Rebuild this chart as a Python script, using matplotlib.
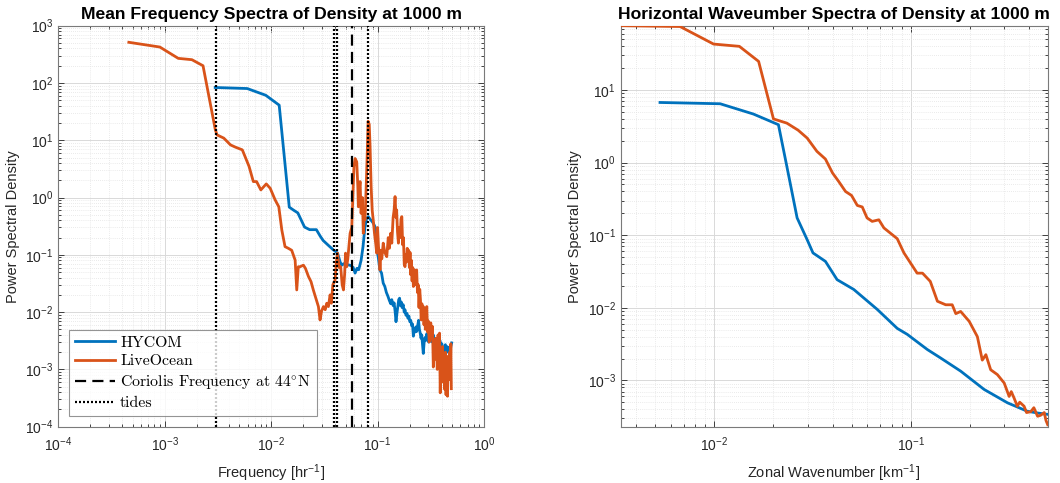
import matplotlib
matplotlib.use("Agg")
import matplotlib.pyplot as plt
from matplotlib.ticker import LogLocator, NullFormatter

# ---------------- frequency spectra (left panel) ----------------
hycom_freq = [0.00298, 0.00596, 0.0089, 0.0119, 0.0148, 0.0163, 0.0178, 0.0206, 0.0230, 0.0266,
              0.0290, 0.0308, 0.0340, 0.0384, 0.0420, 0.0445, 0.0461, 0.0480, 0.0500, 0.0530,
              0.0560, 0.0590, 0.0615, 0.0640, 0.0665, 0.0700, 0.0730, 0.0760, 0.0790, 0.0818,
              0.0850, 0.0880, 0.0912, 0.0946, 0.0980, 0.1020, 0.1050, 0.1090, 0.1130, 0.1170,
              0.1210, 0.1250, 0.1290, 0.1330, 0.1360, 0.1400, 0.1430, 0.1460, 0.1490, 0.1520,
              0.1550, 0.1580, 0.1610, 0.1640, 0.1670, 0.1700, 0.1740, 0.1780, 0.1810, 0.1850,
              0.1890, 0.1930, 0.1970, 0.2010, 0.2050, 0.2090, 0.2130, 0.2170, 0.2210, 0.2250,
              0.2290, 0.2330, 0.2380, 0.2430, 0.2470, 0.2510, 0.2560, 0.2600, 0.2650, 0.2690,
              0.2740, 0.2790, 0.2840, 0.2900, 0.2960, 0.3020, 0.3080, 0.3140, 0.3200, 0.3270,
              0.3340, 0.3410, 0.3480, 0.3550, 0.3620, 0.3700, 0.3780, 0.3860, 0.3940, 0.4020,
              0.4100, 0.4180, 0.4260, 0.4340, 0.4420, 0.4500, 0.4580, 0.4660, 0.4740, 0.4820,
              0.4900, 0.4970]
hycom_psd = [83.4, 80.0, 61.0, 41.0, 0.68, 0.60, 0.54, 0.305, 0.275, 0.275,
             0.21, 0.178, 0.15, 0.122, 0.108, 0.075, 0.066, 0.070, 0.066, 0.067,
             0.065, 0.060, 0.048, 0.058, 0.055, 0.080, 0.139, 0.30, 0.435, 0.464,
             0.42, 0.39, 0.356, 0.31, 0.139, 0.085, 0.055, 0.048, 0.032, 0.028,
             0.022, 0.019, 0.016, 0.014, 0.0165, 0.013, 0.0145, 0.0105, 0.0068, 0.0095,
             0.0125, 0.0165, 0.0175, 0.0130, 0.0150, 0.0120, 0.0135, 0.0100, 0.0110, 0.0088,
             0.0095, 0.0078, 0.0085, 0.0068, 0.0072, 0.0058, 0.0062, 0.0038, 0.0050, 0.0045,
             0.0055, 0.0046, 0.0058, 0.0072, 0.0050, 0.0044, 0.0035, 0.0040, 0.0026, 0.0019,
             0.0030, 0.0036, 0.0032, 0.0042, 0.0035, 0.0030, 0.0034, 0.0031, 0.0036, 0.0030,
             0.0040, 0.0033, 0.0028, 0.0034, 0.0031, 0.0026, 0.0030, 0.0032, 0.0025, 0.0028,
             0.0021, 0.0019, 0.0024, 0.0027, 0.0022, 0.0025, 0.0020, 0.0024, 0.0019, 0.0022,
             0.0026, 0.0029]

liveocean_freq = [4.6e-4, 9.0e-4, 1.34e-3, 1.8e-3, 2.29e-3, 2.99e-3, 3.1e-3, 3.59e-3, 4.15e-3, 4.6e-3,
                  5.36e-3, 6.2e-3, 6.8e-3, 7.3e-3, 8.0e-3, 9.0e-3, 9.8e-3, 0.0109, 0.0118, 0.0126,
                  0.0135, 0.0145, 0.0156, 0.0168, 0.0174, 0.0180, 0.0187, 0.0201, 0.0210, 0.0224,
                  0.0237, 0.0249, 0.0262, 0.0278, 0.0288, 0.0298, 0.0310, 0.0322, 0.0333, 0.0345,
                  0.0358, 0.0368, 0.0380, 0.0399, 0.0410, 0.0420, 0.0435, 0.0450, 0.0465, 0.0478,
                  0.0490, 0.0500, 0.0513, 0.0525, 0.0552, 0.0572, 0.0585, 0.0600, 0.0615, 0.0637,
                  0.0652, 0.0660, 0.0672, 0.0685, 0.0700, 0.0720, 0.0735, 0.0750, 0.0762, 0.0780,
                  0.0800, 0.0815, 0.0835, 0.0850, 0.0870, 0.0890, 0.0910, 0.0935, 0.0960, 0.0981,
                  0.1000, 0.1020, 0.1040, 0.1054, 0.1075, 0.1095, 0.1130, 0.1170, 0.1220, 0.1260,
                  0.1290, 0.1330, 0.1360, 0.1400, 0.1430, 0.1460, 0.1490, 0.1510, 0.1540, 0.1570,
                  0.1600, 0.1630, 0.1660, 0.1690, 0.1720, 0.1750, 0.1780, 0.1810, 0.1840, 0.1870,
                  0.1900, 0.1930, 0.1960, 0.1990, 0.2020, 0.2050, 0.2080, 0.2110, 0.2140, 0.2170,
                  0.2210, 0.2250, 0.2290, 0.2330, 0.2370, 0.2410, 0.2450, 0.2490, 0.2530, 0.2570,
                  0.2610, 0.2650, 0.2690, 0.2730, 0.2770, 0.2810, 0.2860, 0.2900, 0.2950, 0.3000,
                  0.3050, 0.3110, 0.3160, 0.3220, 0.3280, 0.3340, 0.3400, 0.3460, 0.3520, 0.3580,
                  0.3640, 0.3700, 0.3760, 0.3820, 0.3880, 0.3940, 0.4000, 0.4070, 0.4140, 0.4200,
                  0.4270, 0.4340, 0.4400, 0.4470, 0.4540, 0.4610, 0.4680, 0.4750, 0.4820, 0.4880,
                  0.4930]
liveocean_psd = [513, 424, 269, 255, 200, 15.2, 12.4, 10.9, 8.3, 7.6,
                 6.8, 3.5, 1.9, 1.9, 1.36, 1.73, 1.45, 0.91, 0.69, 0.27,
                 0.139, 0.13, 0.12, 0.081, 0.0244, 0.062, 0.062, 0.066, 0.058, 0.042,
                 0.034, 0.0244, 0.018, 0.0125, 0.0073, 0.0105, 0.0125, 0.0110, 0.0143, 0.0125,
                 0.020, 0.0143, 0.030, 0.0365, 0.075, 0.107, 0.060, 0.062, 0.030, 0.0244,
                 0.045, 0.107, 0.062, 0.085, 0.238, 0.30, 0.91, 3.5, 4.8, 4.2,
                 1.6, 0.69, 1.36, 1.9, 0.53, 1.0, 0.238, 0.50, 0.41, 1.36,
                 6.0, 21.5, 19.0, 8.0, 1.55, 0.60, 0.41, 0.238, 0.16, 0.107,
                 0.30, 0.14, 0.093, 0.0545, 0.12, 0.085, 0.16, 0.11, 0.093, 0.20,
                 0.13, 0.238, 0.16, 0.45, 0.60, 1.04, 0.45, 0.61, 0.25, 0.16,
                 0.30, 0.20, 0.42, 0.464, 0.15, 0.20, 0.07, 0.0622, 0.10, 0.075,
                 0.13, 0.09, 0.12, 0.06, 0.11, 0.045, 0.08, 0.035, 0.06, 0.028,
                 0.055, 0.030, 0.045, 0.0545, 0.022, 0.030, 0.012, 0.025, 0.0163, 0.0073,
                 0.014, 0.0095, 0.0125, 0.0060, 0.0110, 0.0050, 0.0090, 0.0125, 0.0045, 0.0070,
                 0.0030, 0.0033, 0.0065, 0.0040, 0.0056, 0.0011, 0.0030, 0.0015, 0.0035, 0.0022,
                 0.0010, 0.0040, 0.0018, 0.0043, 0.00039, 0.0020, 0.0012, 0.0025, 0.0006, 0.0015,
                 0.00045, 0.0020, 0.00036, 0.0013, 0.00034, 0.0017, 0.00066, 0.0020, 0.0008, 0.0028,
                 0.00046]

coriolis_freq = 0.0581                        # f at 44 N, cycles per hour
tide_freqs = [0.00305, 0.03873, 0.04178, 0.08051]  # Mf, O1, K1, M2

# ---------------- wavenumber spectra (right panel) ----------------
hycom_k = [0.00528, 0.0107, 0.0158, 0.0212, 0.0234, 0.0264, 0.0297, 0.0318, 0.0368, 0.0422,
           0.0513, 0.0676, 0.0855, 0.0962, 0.1217, 0.142, 0.180, 0.237, 0.312, 0.394,
           0.444, 0.500]
hycom_kpsd = [6.74, 6.47, 4.67, 3.33, 0.887, 0.173, 0.0867, 0.057, 0.0436, 0.0244,
              0.0179, 0.0095, 0.0052, 0.0043, 0.00266, 0.00204, 0.00134, 7.5e-4, 4.9e-4, 3.75e-4,
              3.55e-4, 3.4e-4]

liveocean_k = [0.00333, 0.00668, 0.0099, 0.0134, 0.0168, 0.0200, 0.0234, 0.0267, 0.0297, 0.0333,
               0.0368, 0.0400, 0.0430, 0.0466, 0.0500, 0.0535, 0.0567, 0.0600, 0.0637, 0.0689,
               0.0731, 0.0855, 0.0925, 0.108, 0.115, 0.126, 0.137, 0.151, 0.163, 0.170,
               0.180, 0.199, 0.219, 0.232, 0.242, 0.256, 0.277, 0.300, 0.318, 0.326,
               0.337, 0.350, 0.360, 0.379, 0.390, 0.410, 0.425, 0.444, 0.460, 0.480,
               0.490, 0.500]
liveocean_kpsd = [77, 75, 43, 40, 24.8, 4.0, 3.5, 2.8, 2.18, 1.43,
                  1.12, 0.72, 0.55, 0.40, 0.353, 0.257, 0.245, 0.173, 0.155, 0.163,
                  0.126, 0.0895, 0.057, 0.030, 0.030, 0.0231, 0.0123, 0.011, 0.011, 0.0083,
                  0.0089, 0.0065, 0.0040, 0.0019, 0.00226, 0.0014, 0.0012, 9.2e-4, 6.0e-4, 7.0e-4,
                  5.7e-4, 4.4e-4, 5.0e-4, 4.4e-4, 3.6e-4, 3.7e-4, 4.2e-4, 3.2e-4, 3.3e-4, 3.6e-4,
                  2.8e-4, 2.45e-4]

BLUE = "#0072BD"
ORANGE = "#D95319"
AXCOL = "#262626"

plt.rcParams["font.family"] = ["Liberation Sans", "DejaVu Sans"]
plt.rcParams["axes.unicode_minus"] = True
plt.rcParams["mathtext.fontset"] = "cm"

fig = plt.figure(figsize=(10.6, 4.83), dpi=100)
ax1 = fig.add_axes([0.0550, 0.1166, 0.4016, 0.8302])
ax2 = fig.add_axes([0.5856, 0.1166, 0.4028, 0.8302])


def style_axes(ax):
    ax.set_xscale("log")
    ax.set_yscale("log")
    ax.xaxis.set_major_locator(LogLocator(base=10, numticks=20))
    ax.yaxis.set_major_locator(LogLocator(base=10, numticks=20))
    ax.xaxis.set_minor_locator(LogLocator(base=10, subs=range(2, 10), numticks=20))
    ax.yaxis.set_minor_locator(LogLocator(base=10, subs=range(2, 10), numticks=20))
    ax.xaxis.set_minor_formatter(NullFormatter())
    ax.yaxis.set_minor_formatter(NullFormatter())
    ax.xaxis.get_offset_text().set_visible(False)
    ax.yaxis.get_offset_text().set_visible(False)
    ax.tick_params(which="both", direction="in", top=True, right=True, colors=AXCOL,
                   labelsize=10, width=0.6)
    ax.tick_params(which="major", length=4.5)
    ax.tick_params(which="minor", length=2.5)
    ax.tick_params(axis="x", which="major", pad=6)
    for s in ax.spines.values():
        s.set_color("#7a7a7a")
        s.set_linewidth(0.8)
    ax.grid(True, which="major", color="#d9d9d9", linewidth=0.7, linestyle="-")
    ax.grid(True, which="minor", color="#e3e3e3", linewidth=0.6, linestyle=(0, (1, 1.5)))
    ax.set_axisbelow(True)


style_axes(ax1)
style_axes(ax2)

# left: frequency spectra
l1, = ax1.plot(hycom_freq, hycom_psd, color=BLUE, lw=2.0, label="HYCOM", zorder=3)
l2, = ax1.plot(liveocean_freq, liveocean_psd, color=ORANGE, lw=2.0, label="LiveOcean", zorder=3)
l3 = ax1.axvline(coriolis_freq, color="black", lw=1.6, linestyle=(0, (5, 2.8)),
                 label="Coriolis Frequency at 44$^{\\circ}$N", zorder=4)
l4 = None
for i, tf in enumerate(tide_freqs):
    ln = ax1.axvline(tf, color="black", lw=1.6, linestyle=(0, (0.9, 0.9)),
                     label="tides" if i == 0 else None, zorder=4)
    if i == 0:
        l4 = ln
ax1.set_xlim(1e-4, 1)
ax1.set_ylim(1e-4, 1e3)
ax1.set_title("Mean Frequency Spectra of Density at 1000 m", fontsize=12.6,
              fontweight="bold", pad=5)
ax1.set_xlabel("Frequency [hr$^{\\mathdefault{-1}}$]", fontsize=10.5, color=AXCOL, labelpad=6)
ax1.set_ylabel("Power Spectral Density", fontsize=10.5, color=AXCOL, labelpad=4)

leg = ax1.legend(handles=[l1, l2, l3, l4], loc="lower left",
                 prop={"family": ["cmr10", "DejaVu Serif"], "size": 11.4},
                 borderaxespad=0.7, frameon=True, fancybox=False,
                 handlelength=2.55, handletextpad=0.3, labelspacing=0.28, borderpad=0.35)
leg.get_frame().set_edgecolor("#7a7a7a")
leg.get_frame().set_linewidth(0.8)
leg.set_zorder(5)

# right: wavenumber spectra
ax2.plot(hycom_k, hycom_kpsd, color=BLUE, lw=2.0, zorder=3)
ax2.plot(liveocean_k, liveocean_kpsd, color=ORANGE, lw=2.0, zorder=3)
ax2.set_xlim(0.00333, 0.5)
ax2.set_ylim(2.3e-4, 77)
ax2.set_title("Horizontal Waveumber Spectra of Density at 1000 m", fontsize=12.6,
              fontweight="bold", pad=5)
ax2.set_xlabel("Zonal Wavenumber [km$^{\\mathdefault{-1}}$]", fontsize=10.5, color=AXCOL, labelpad=6)
ax2.set_ylabel("Power Spectral Density", fontsize=10.5, color=AXCOL, labelpad=4)

fig.savefig("out.png", dpi=100)
